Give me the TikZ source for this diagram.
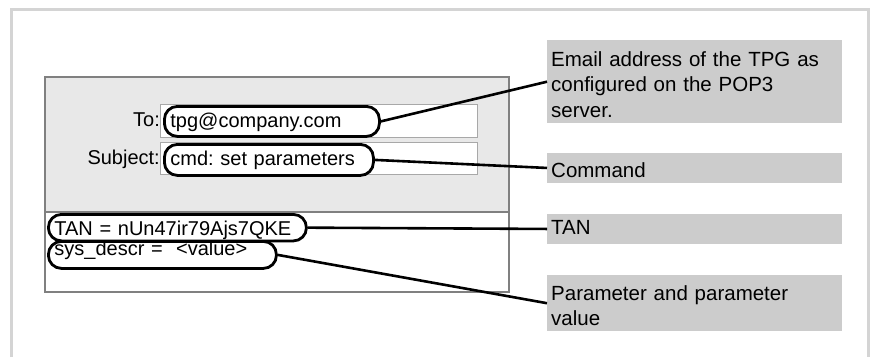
\documentclass[tikz,border=0pt]{standalone}
\usepackage{fontspec}
\setmainfont{Liberation Sans}
\frenchspacing
\newlength{\du}
\setlength{\du}{1pt}
\definecolor{framecolor}{rgb}{0.830000, 0.830000, 0.830000}
\definecolor{winfillcolor}{rgb}{0.910000, 0.910000, 0.910000}
\definecolor{winlinecolor}{rgb}{0.500000, 0.500000, 0.500000}
\definecolor{fieldlinecolor}{rgb}{0.660000, 0.660000, 0.660000}
\definecolor{notecolor}{rgb}{0.800000, 0.800000, 0.800000}
\tikzset{
  ovalbox/.style={draw=black, line width=2.8\du, rounded corners=13\du, anchor=north west,
    inner xsep=6\du, inner ysep=0\du, align=left, font=\fontsize{20}{24}\selectfont},
  notebox/.style={fill=notecolor, anchor=north west, inner xsep=4\du, inner ysep=0\du,
    text width=287\du, align=left, font=\fontsize{20.5}{25.5}\selectfont},
  fieldbox/.style={draw=fieldlinecolor, fill=white, line width=1\du},
  fieldlabel/.style={anchor=base east, inner sep=0\du, font=\fontsize{20}{24}\selectfont},
  wire/.style={draw=black, line width=2.6\du},
}

\begin{document}
\begin{tikzpicture}
\pgftransformyscale{-1.000000}
\useasboundingbox (0\du,0\du) rectangle (878\du,357\du);
% frame
\draw[framecolor, line width=3\du] (11\du,357\du)--(11\du,9.5\du)--(868\du,9.5\du)--(868\du,357\du);
% mail window
\fill[winfillcolor] (45\du,77\du) rectangle (509\du,212\du);
\draw[winlinecolor, line width=1.5\du] (45\du,77\du) rectangle (509\du,292\du);
\draw[winlinecolor, line width=1.5\du] (45\du,212\du)--(509\du,212\du);
\draw[fieldbox] (160\du,104\du) rectangle (477\du,137\du);
\draw[fieldbox] (160\du,142\du) rectangle (477\du,174\du);
\node[fieldlabel] (toLabel) at (160\du,126.5\du){To:};
\node[fieldlabel] (subjLabel) at (160\du,164\du){Subject:};
% ovals
\node[ovalbox, text width=203\du, text height=21.5\du, text depth=8.5\du] (toOval) at (163\du,105\du){tpg@company.com};
\node[ovalbox, text width=197\du, text height=21\du, text depth=10\du] (subjOval) at (163\du,143\du){cmd: set parameters};
\node[ovalbox, text width=246\du, text height=21\du, text depth=5.5\du] (tanOval) at (47\du,213\du){TAN = nUn47ir79Ajs7QKE};
\node[ovalbox, text width=216\du, text height=14\du, text depth=13\du] (sysOval) at (47\du,240\du){sys\_descr =\ \ {<}value{>}};
% notes
\node[notebox, text height=26\du, text depth=57\du] (addrNote) at (547\du,40\du){Email address of the TPG as\\configured on the POP3\\server.};
\node[notebox, text height=24.5\du, text depth=6\du] (cmdNote) at (547\du,152.5\du){Command};
\node[notebox, text height=21\du, text depth=9.5\du] (tanNote) at (547\du,213.5\du){TAN};
\node[notebox, text height=25\du, text depth=31\du] (parNote) at (547\du,275\du){Parameter and parameter\\value};
% connectors
\draw[wire] (toOval.east)--(addrNote.west);
\draw[wire] (subjOval.east)--(cmdNote.west);
\draw[wire] (tanOval.east)--(tanNote.west);
\draw[wire] (sysOval.east)--(parNote.west);
\end{tikzpicture}
\end{document}
